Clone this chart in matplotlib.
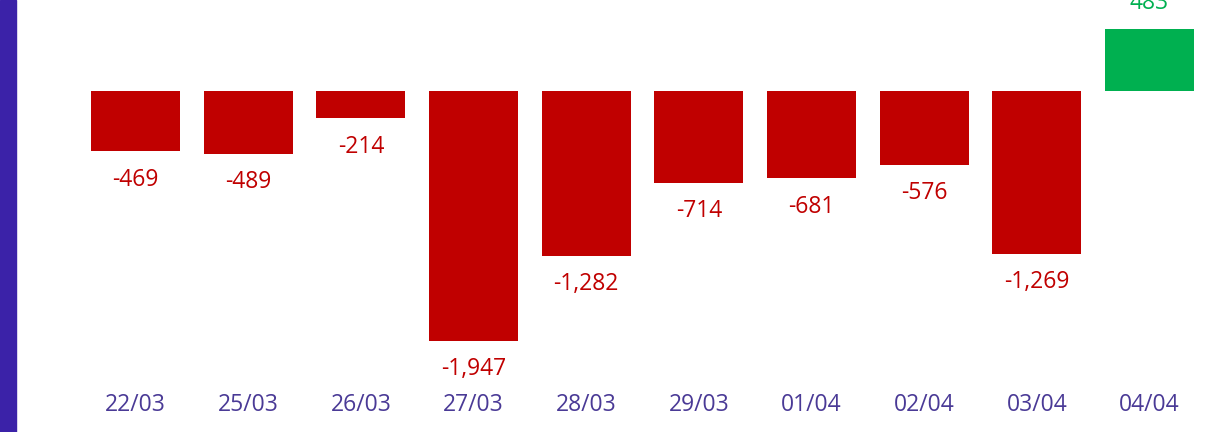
import matplotlib
matplotlib.use('Agg')
import matplotlib.pyplot as plt
from matplotlib.patches import Rectangle

dates = ['22/03', '25/03', '26/03', '27/03', '28/03', '29/03', '01/04', '02/04', '03/04', '04/04']
values = [-469, -489, -214, -1947, -1282, -714, -681, -576, -1269, 483]

RED = '#c00000'
GREEN = '#00b050'
PURPLE = '#4a3a96'

plt.rcParams['font.family'] = ['Open Sans', 'DejaVu Sans']

fig = plt.figure(figsize=(12.28, 4.32), dpi=100)
ax = fig.add_axes([0, 42 / 432, 1, 390 / 432])

colors = [GREEN if v >= 0 else RED for v in values]
x = list(range(len(values)))
ax.bar(x, values, width=0.79, color=colors)

for xi, v, c in zip(x, values, colors):
    off = 19 if v >= 0 else -20.5
    ax.annotate(f'{v:,}', (xi, v), xytext=(0, off), textcoords='offset points',
                ha='center', va='center', color=c, fontsize=16.5)

# px per unit ~ 0.1284, zero line at y=91px
ax.set_ylim(-2328.6, 708.7)
ax.set_xlim(-0.5 - 135.5 / 112.67 + 0.5, (1228 - 135.5) / 112.67)
ax.set_xticks(x)
ax.set_xticklabels(dates, color=PURPLE, fontsize=16.5)
ax.tick_params(axis='x', length=0, pad=2)
ax.set_yticks([])
for s in ax.spines.values():
    s.set_visible(False)

fig.add_artist(Rectangle((0, 0), 16 / 1228, 1, transform=fig.transFigure,
                         color='#3b22a8', zorder=5))

fig.savefig('out.png', dpi=100)
